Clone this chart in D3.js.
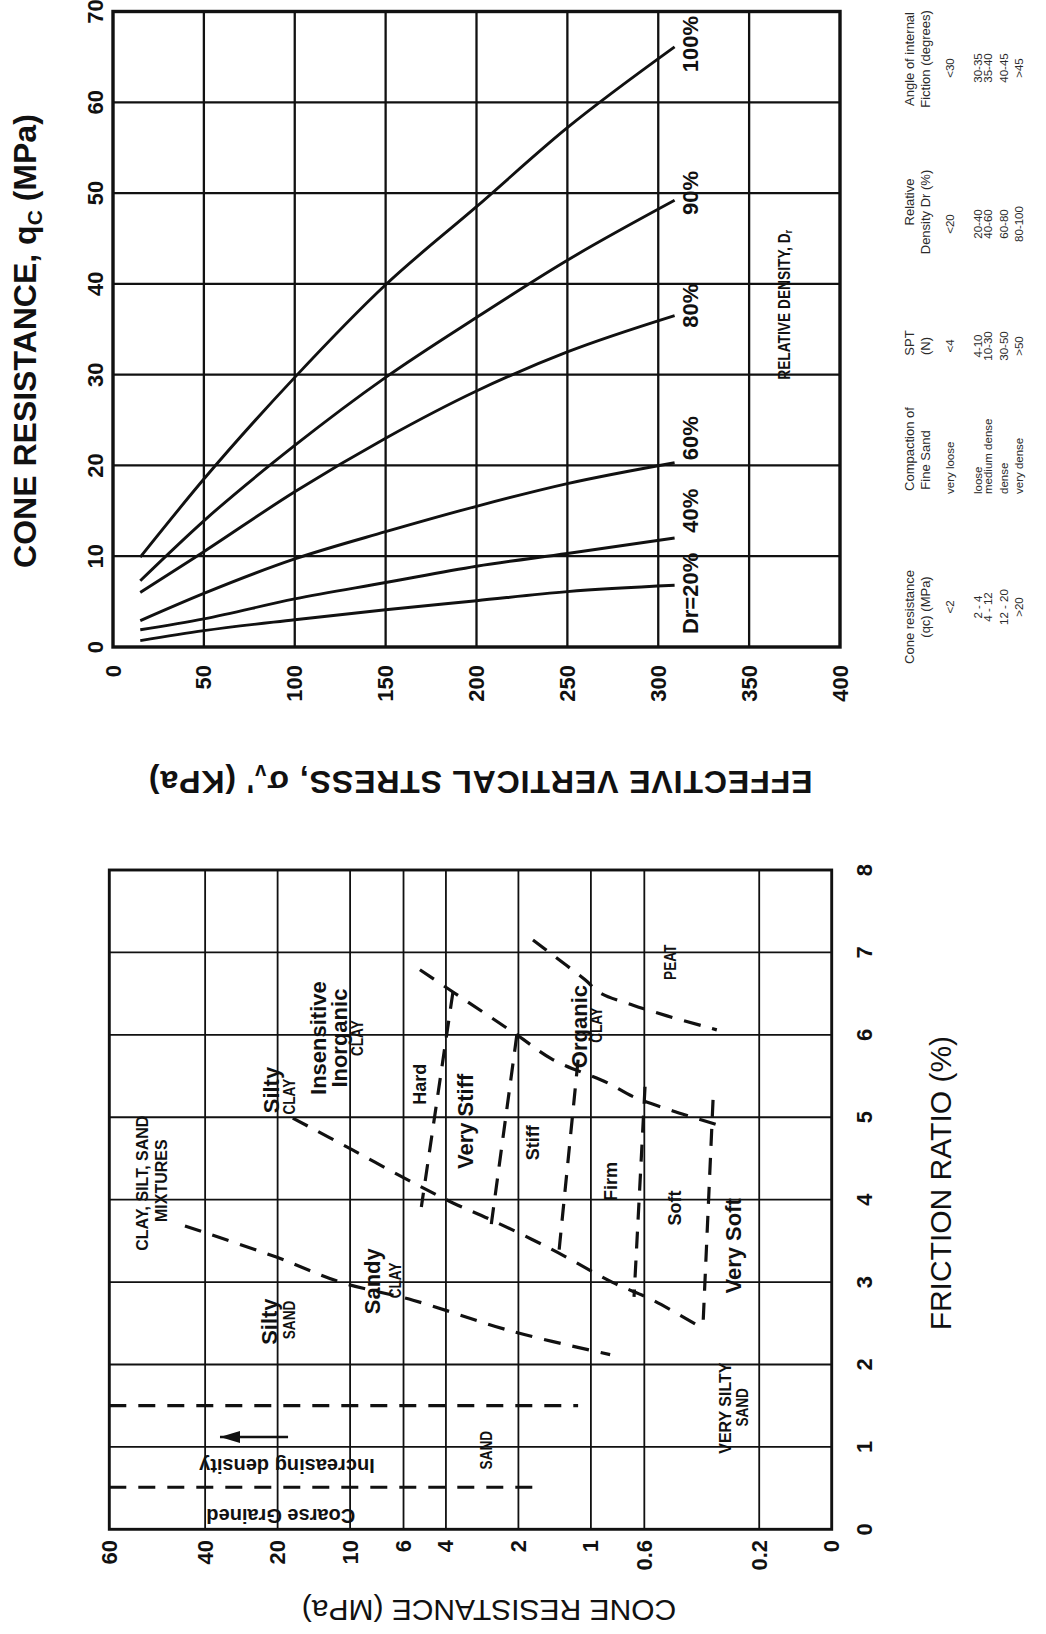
<!DOCTYPE html>
<html>
<head>
<meta charset="utf-8">
<script src="https://cdn.jsdelivr.net/npm/d3@7"></script>
<style>
  body { margin: 0; background: #fff; }
  svg { display: block; font-family: "Liberation Sans", Arial, Helvetica, sans-serif; }
  .tick { font-size: 22px; font-weight: bold; fill: #111; }
  .title { font-size: 32px; font-weight: bold; fill: #111; }
  .title-reg { font-size: 30px; font-weight: normal; fill: #111; }
  .curve-lbl { font-size: 22px; font-weight: bold; fill: #111; }
  .big { font-size: 22px; font-weight: bold; fill: #111; }
  .mid { font-size: 18px; font-weight: bold; fill: #111; }
  .caps { font-size: 16px; font-weight: bold; fill: #111; }
  .small { font-size: 16px; font-weight: bold; fill: #111; }
  .note { font-size: 20px; font-weight: bold; fill: #111; }
  .tbl-head { font-size: 13px; fill: #2a2a2a; }
  .tbl-val { font-size: 11.5px; fill: #2a2a2a; }
</style>
</head>
<body>
<div id="chart"></div>
<script>
// ---------- top chart data: qc (MPa) vs effective vertical stress (kPa) ----------
var stressPts = [15, 50, 100, 150, 200, 250, 309];
var dr100 = [9.9, 18.5, 29.7, 39.9, 48.5, 57.2, 66.1];
var dr90 = [7.3, 13.9, 22.2, 29.7, 36.3, 42.6, 49.2];
var dr80 = [6.0, 10.5, 17.1, 23.0, 28.2, 32.5, 36.5];
var dr60 = [2.9, 5.9, 9.7, 12.7, 15.5, 18.0, 20.3];
var dr40 = [1.9, 3.1, 5.3, 7.1, 8.9, 10.3, 12.0];
var dr20 = [0.7, 1.8, 3.0, 4.1, 5.1, 6.1, 6.8];
var densitySeries = [dr100, dr90, dr80, dr60, dr40, dr20];
var densityLabels = ["100%", "90%", "80%", "60%", "40%", "Dr=20%"];
var densityLabelQc = [66.4, 50.0, 37.6, 23.0, 15.0, 5.9];
var densityLabelStress = 318;

var stressTicks = [0, 50, 100, 150, 200, 250, 300, 350, 400];
var qcTicksTop = [0, 10, 20, 30, 40, 50, 60, 70];

// ---------- bottom chart data: cone resistance vs friction ratio ----------
var rfTicks = [0, 1, 2, 3, 4, 5, 6, 7, 8];
var qcGridValues = [100, 40, 20, 10, 6, 4, 2, 1, 0.6, 0.2, 0.1];
var qcGridLabels = ["60", "40", "20", "10", "6", "4", "2", "1", "0.6", "0.2", "0"];

// boundaries as [friction ratio %, cone resistance MPa]
var mixturesLine = [[3.68, 48.5], [3.30, 20.1], [3.00, 11.0], [2.78, 5.48], [2.40, 2.11], [2.12, 0.832]];
var siltyClayLine = [[4.99, 17.3], [4.60, 9.73], [4.20, 5.43], [3.96, 3.74], [3.76, 2.62], [3.40, 1.46], [3.00, 0.817], [2.78, 0.552], [2.42, 0.336]];
var inorganicLine = [[6.79, 5.13], [6.52, 3.74], [6.00, 2.03], [5.70, 1.44], [5.42, 0.857], [5.25, 0.668], [5.08, 0.460], [4.91, 0.300]];
var peatLine = [[7.15, 1.74], [7.02, 1.52], [6.67, 1.06], [6.51, 0.916], [6.36, 0.668], [6.23, 0.483], [6.10, 0.336], [6.06, 0.300]];
var hardLine = [[6.52, 3.74], [3.91, 5.06]];
var veryStiffLine = [[6.00, 2.03], [3.60, 2.62]];
var stiffLine = [[5.70, 1.13], [3.25, 1.37]];
var firmLine = [[5.37, 0.596], [2.82, 0.662]];
var softLine = [[5.21, 0.311], [2.42, 0.343]];
var sandLineUpper = [[1.50, 100], [1.50, 1.13]];
var sandLineLower = [[0.51, 100], [0.51, 1.74]];
var boundaryLines = [mixturesLine, siltyClayLine, inorganicLine, peatLine, hardLine,
  veryStiffLine, stiffLine, firmLine, softLine, sandLineUpper, sandLineLower];
var densityArrow = [[1.12, 18.1], [1.12, 34.7]];

var soilLabels = [
  { t: "CLAY, SILT, SAND", rf: 4.20, qc: 72.8, k: "caps" },
  { t: "MIXTURES", rf: 4.23, qc: 60.7, k: "caps" },
  { t: "Silty", rf: 5.33, qc: 21.3, k: "big" },
  { t: "CLAY", rf: 5.25, qc: 17.9, k: "small" },
  { t: "Insensitive", rf: 5.96, qc: 13.5, k: "big" },
  { t: "Inorganic", rf: 5.96, qc: 11.1, k: "big" },
  { t: "CLAY", rf: 5.96, qc: 9.32, k: "small" },
  { t: "Hard", rf: 5.40, qc: 5.13, k: "mid" },
  { t: "Very Stiff", rf: 4.95, qc: 3.33, k: "big" },
  { t: "Stiff", rf: 4.69, qc: 1.74, k: "mid" },
  { t: "Organic", rf: 6.10, qc: 1.12, k: "big" },
  { t: "CLAY", rf: 6.12, qc: 0.948, k: "small" },
  { t: "PEAT", rf: 6.88, qc: 0.465, k: "small" },
  { t: "Firm", rf: 4.22, qc: 0.826, k: "mid" },
  { t: "Soft", rf: 3.90, qc: 0.448, k: "mid" },
  { t: "Very Soft", rf: 3.44, qc: 0.255, k: "big" },
  { t: "VERY SILTY", rf: 1.47, qc: 0.277, k: "caps" },
  { t: "SAND", rf: 1.48, qc: 0.234, k: "small" },
  { t: "Silty", rf: 2.52, qc: 21.7, k: "big" },
  { t: "SAND", rf: 2.54, qc: 17.9, k: "small" },
  { t: "Sandy", rf: 3.01, qc: 8.11, k: "big" },
  { t: "CLAY", rf: 3.02, qc: 6.45, k: "small" },
  { t: "SAND", rf: 0.96, qc: 2.70, k: "small" }
];
var flippedNotes = [
  { t: "Increasing density", rf: 0.77, qc: 18.3 },
  { t: "Coarse Grained", rf: 0.16, qc: 19.4 }
];

// ---------- table ----------
var tableHeaders = [["Cone resistance", "(qc) (MPa)"], ["Compaction of", "Fine Sand"],
  ["SPT", "(N)"], ["Relative", "Density Dr (%)"], ["Angle of internal", "Fiction (degrees)"]];
var qcClasses = ["<2", "2 - 4", "4 - 12", "12 - 20", ">20"];
var compaction = ["very loose", "loose", "medium dense", "dense", "very dense"];
var sptValues = ["<4", "4-10", "10-30", "30-50", ">50"];
var densityRanges = ["<20", "20-40", "40-60", "60-80", "80-100"];
var frictionAngles = ["<30", "30-35", "35-40", "40-45", ">45"];
var tableColumns = [qcClasses, compaction, sptValues, densityRanges, frictionAngles];

// ---------- layout ----------
var svgWidth = 1046;
var svgHeight = 1634;
var topBox = { left: 113, top: 11.5, width: 727, height: 635.5 };
var botBox = { left: 109.3, top: 870, width: 722.4, height: 659.3 };

var svg = d3.select("#chart").append("svg")
  .attr("width", svgWidth)
  .attr("height", svgHeight);

function rotText(parent, x, y, angle, str, cls, anchor, baseline) {
  return parent.append("text")
    .attr("transform", `translate(${x},${y}) rotate(${angle})`)
    .attr("text-anchor", anchor || "middle")
    .attr("dominant-baseline", baseline || "central")
    .attr("class", cls)
    .text(str);
}

// ================= TOP CHART =================
var xTop = d3.scaleLinear().domain([0, 400]).range([topBox.left, topBox.left + topBox.width]);
var yTop = d3.scaleLinear().domain([0, 70]).range([topBox.top + topBox.height, topBox.top]);

var topG = svg.append("g");

topG.selectAll(".vgrid").data(stressTicks.slice(1, -1)).enter()
  .append("line")
  .attr("x1", d => xTop(d)).attr("x2", d => xTop(d))
  .attr("y1", yTop(0)).attr("y2", yTop(70))
  .attr("stroke", "#111").attr("stroke-width", 2.3);

topG.selectAll(".hgrid").data(qcTicksTop.slice(1, -1)).enter()
  .append("line")
  .attr("x1", xTop(0)).attr("x2", xTop(400))
  .attr("y1", d => yTop(d)).attr("y2", d => yTop(d))
  .attr("stroke", "#111").attr("stroke-width", 2.3);

topG.append("rect")
  .attr("x", xTop(0)).attr("y", yTop(70))
  .attr("width", xTop(400) - xTop(0)).attr("height", yTop(0) - yTop(70))
  .attr("fill", "none").attr("stroke", "#111").attr("stroke-width", 3.4);

var densityLine = d3.line()
  .x((d, i) => xTop(stressPts[i]))
  .y(d => yTop(d))
  .curve(d3.curveMonotoneX);

topG.selectAll(".dcurve").data(densitySeries).enter()
  .append("path")
  .attr("d", d => densityLine(d))
  .attr("fill", "none")
  .attr("stroke", "#111")
  .attr("stroke-width", 2.9);

densityLabels.forEach(function(lbl, i) {
  rotText(topG, xTop(densityLabelStress), yTop(densityLabelQc[i]), -90, lbl, "curve-lbl");
});

// relative density note
var rdText = topG.append("text")
  .attr("transform", `translate(${xTop(369)},${yTop(37.7)}) rotate(-90) scale(0.86,1)`)
  .attr("text-anchor", "middle")
  .attr("dominant-baseline", "central")
  .attr("font-size", 16).attr("font-weight", "bold").attr("fill", "#111");
rdText.append("tspan").text("RELATIVE DENSITY, D");
rdText.append("tspan").attr("font-size", 11).attr("dy", 4).text("r");

// axis tick labels
qcTicksTop.forEach(function(v) {
  rotText(topG, 95, yTop(v), -90, v, "tick");
});
stressTicks.forEach(function(v) {
  rotText(topG, xTop(v), yTop(0) + 18, -90, v, "tick", "end");
});

// titles
var yTitle = topG.append("text")
  .attr("transform", `translate(36,${yTop(33.7)}) rotate(-90)`)
  .attr("text-anchor", "middle")
  .attr("class", "title");
yTitle.append("tspan").text("CONE RESISTANCE, q");
yTitle.append("tspan").attr("font-size", 21).attr("dy", 6).text("C");
yTitle.append("tspan").attr("dy", -6).text(" (MPa)");

var xTitle = topG.append("text")
  .attr("transform", `translate(${xTop(202)},771) rotate(180)`)
  .attr("text-anchor", "middle")
  .attr("class", "title")
  .attr("font-size", 30)
  .attr("letter-spacing", 0.9);
xTitle.append("tspan").text("EFFECTIVE VERTICAL STRESS, \u03c3");
xTitle.append("tspan").attr("font-size", 20).attr("dy", 6).text("v");
xTitle.append("tspan").attr("dy", -6).text("' (KPa)");

// ================= BOTTOM CHART =================
var xBot = d3.scaleLog().domain([100, 0.1]).range([botBox.left, botBox.left + botBox.width]);
var yBot = d3.scaleLinear().domain([0, 8]).range([botBox.top + botBox.height, botBox.top]);

var botG = svg.append("g");

botG.selectAll(".vgrid").data(qcGridValues.slice(1, -1)).enter()
  .append("line")
  .attr("x1", d => xBot(d)).attr("x2", d => xBot(d))
  .attr("y1", yBot(0)).attr("y2", yBot(8))
  .attr("stroke", "#111").attr("stroke-width", 1.8);

botG.selectAll(".hgrid").data(rfTicks.slice(1, -1)).enter()
  .append("line")
  .attr("x1", xBot(100)).attr("x2", xBot(0.1))
  .attr("y1", d => yBot(d)).attr("y2", d => yBot(d))
  .attr("stroke", "#111").attr("stroke-width", 1.8);

botG.append("rect")
  .attr("x", xBot(100)).attr("y", yBot(8))
  .attr("width", xBot(0.1) - xBot(100)).attr("height", yBot(0) - yBot(8))
  .attr("fill", "none").attr("stroke", "#111").attr("stroke-width", 2.9);

var boundary = d3.line()
  .x(d => xBot(d[1]))
  .y(d => yBot(d[0]))
  .curve(d3.curveCatmullRom.alpha(0.5));

botG.selectAll(".bline").data(boundaryLines).enter()
  .append("path")
  .attr("d", d => boundary(d))
  .attr("fill", "none")
  .attr("stroke", "#111")
  .attr("stroke-width", 3.2)
  .attr("stroke-dasharray", "17,12");

// arrow "increasing density"
svg.append("defs").append("marker")
  .attr("id", "arrowhead")
  .attr("markerUnits", "userSpaceOnUse")
  .attr("markerWidth", 20).attr("markerHeight", 12)
  .attr("refX", 20).attr("refY", 6)
  .attr("orient", "auto")
  .append("path")
  .attr("d", "M0,0 L20,6 L0,12 Z")
  .attr("fill", "#111");

botG.append("line")
  .attr("x1", xBot(densityArrow[0][1])).attr("y1", yBot(densityArrow[0][0]))
  .attr("x2", xBot(densityArrow[1][1])).attr("y2", yBot(densityArrow[1][0]))
  .attr("stroke", "#111").attr("stroke-width", 2.6)
  .attr("marker-end", "url(#arrowhead)");

soilLabels.forEach(function(s) {
  var t = rotText(botG, xBot(s.qc), yBot(s.rf), -90, s.t, s.k);
  if (s.k === "small") {
    t.attr("transform", `translate(${xBot(s.qc)},${yBot(s.rf)}) rotate(-90) scale(0.85,1)`);
  }
});
flippedNotes.forEach(function(s) {
  rotText(botG, xBot(s.qc), yBot(s.rf), 180, s.t, "note");
});

// tick labels
qcGridValues.forEach(function(v, i) {
  rotText(botG, xBot(v), 1540, -90, qcGridLabels[i], "tick", "end");
});
rfTicks.forEach(function(v) {
  rotText(botG, 864, yBot(v), -90, v, "tick");
});

// titles
rotText(botG, 951, yBot(4.2), -90, "FRICTION RATIO (%)", "title-reg", "middle", "auto")
  .attr("font-size", 28);
rotText(botG, xBot(2.65), 1600, 180, "CONE RESISTANCE (MPa)", "title-reg", "middle", "auto")
  .attr("font-size", 31);

// ================= TABLE =================
var tblG = svg.append("g");
var headerX = [909, 925];
var rowX = [950, 978, 988, 1004, 1019];
var headerY = [[617, 607], [449, 460], [343, 346], [202, 212], [59, 59]];
var valueY = [607, 494, 346, 224, 68];

tableHeaders.forEach(function(h, c) {
  h.forEach(function(line, j) {
    rotText(tblG, headerX[j], headerY[c][j], -90, line, "tbl-head");
  });
  tableColumns[c].forEach(function(v, r) {
    rotText(tblG, rowX[r], valueY[c], -90, v, "tbl-val", c === 1 ? "start" : "middle");
  });
});
</script>
</body>
</html>
